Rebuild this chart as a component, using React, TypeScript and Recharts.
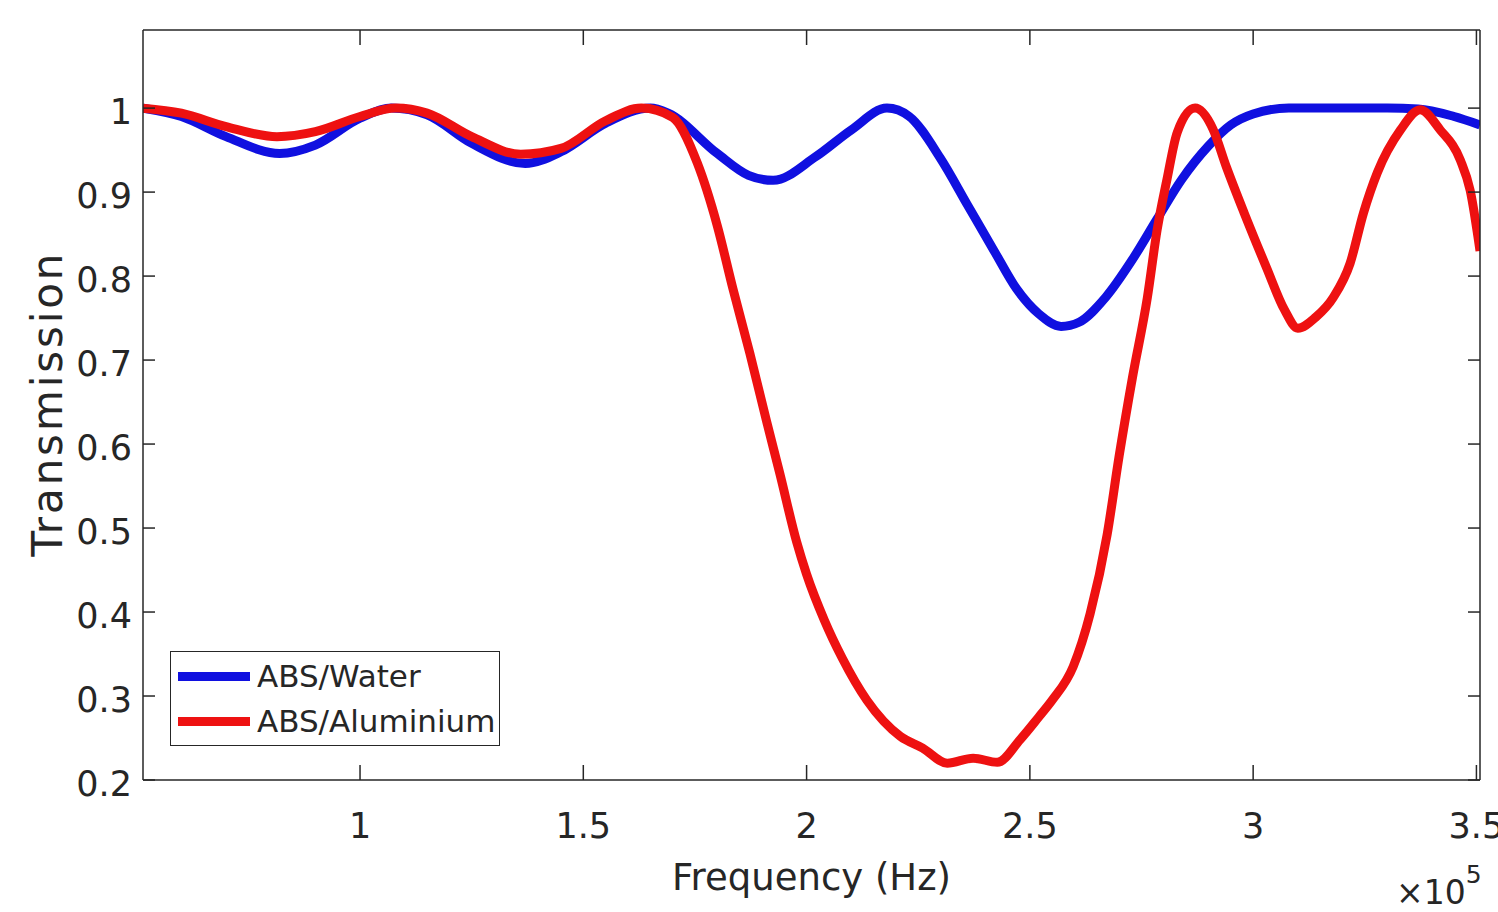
import { Legend, Line, LineChart, XAxis, YAxis } from "recharts";

// frequency in units of 1e5 Hz
const waterFreq = [
  0.514, 0.6, 0.7, 0.82, 0.9, 1.0, 1.07, 1.15, 1.25, 1.37, 1.45, 1.55, 1.65, 1.69, 1.8, 1.87, 1.925,
  2.02, 2.1, 2.18, 2.23, 2.3, 2.36, 2.42, 2.47, 2.52, 2.57, 2.61, 2.67, 2.73, 2.785, 2.84, 2.9,
  2.95, 3.0, 3.08, 3.2, 3.3, 3.37, 3.45, 3.508,
];
const waterT = [
  1.0, 0.99, 0.966, 0.946, 0.956, 0.988, 1.0, 0.992, 0.958, 0.934, 0.948, 0.982, 1.0, 0.994, 0.946,
  0.92, 0.914, 0.942, 0.974, 1.0, 0.99, 0.94, 0.885, 0.83, 0.785, 0.755, 0.74, 0.745, 0.775, 0.82,
  0.868, 0.915, 0.955, 0.98, 0.993, 1.0, 1.0, 1.0, 0.999, 0.99, 0.98,
];

const aluFreq = [
  0.514, 0.6, 0.7, 0.814, 0.9, 1.0, 1.08, 1.15, 1.25, 1.36, 1.45, 1.55, 1.63, 1.7, 1.755, 1.8, 1.835,
  1.873, 1.91, 1.94, 1.978, 2.0, 2.04, 2.08, 2.135, 2.21, 2.26, 2.315, 2.373, 2.427, 2.478, 2.52,
  2.55, 2.597, 2.635, 2.673, 2.7, 2.73, 2.763, 2.785, 2.807, 2.83, 2.87, 2.91, 2.94, 2.98, 3.03,
  3.07, 3.1, 3.14, 3.18, 3.217, 3.247, 3.278, 3.33, 3.374, 3.419, 3.464, 3.486, 3.508,
];
const aluT = [
  1.0, 0.994, 0.978, 0.966, 0.972, 0.99, 1.0, 0.994, 0.966, 0.945, 0.952, 0.985, 1.0, 0.989, 0.935,
  0.86, 0.785, 0.708, 0.628, 0.565, 0.483, 0.445, 0.39, 0.345, 0.295, 0.252, 0.238, 0.22, 0.226,
  0.221, 0.248, 0.275, 0.295, 0.335, 0.398, 0.492, 0.586, 0.68, 0.774, 0.855, 0.915, 0.971, 1.0,
  0.975, 0.93, 0.875, 0.81, 0.76, 0.738, 0.751, 0.775, 0.815, 0.875, 0.923, 0.974, 0.998, 0.974,
  0.938, 0.902, 0.83,
];

const xTicks = [1, 1.5, 2, 2.5, 3, 3.5];
const yTicks = [0.2, 0.3, 0.4, 0.5, 0.6, 0.7, 0.8, 0.9, 1];

const series = [
  { name: "ABS/Water", color: "#1010e0", freq: waterFreq, t: waterT },
  { name: "ABS/Aluminium", color: "#ee1111", freq: aluFreq, t: aluT },
];

const FONT = "'DejaVu Sans', sans-serif";
const INK = "#262626";

function BottomTick({ x, y, payload }: any) {
  return (
    <g>
      <line x1={x} x2={x} y1={y} y2={y - 15} stroke={INK} strokeWidth={1.5} />
      <text x={x} y={y + 58} textAnchor="middle" fontSize={35} fontFamily={FONT} fill={INK}>
        {payload.value}
      </text>
    </g>
  );
}

function LeftTick({ x, y, payload }: any) {
  return (
    <g>
      <line x1={x} x2={x + 12} y1={y} y2={y} stroke={INK} strokeWidth={1.5} />
      <text x={x - 11} y={y + 16} textAnchor="end" fontSize={35} fontFamily={FONT} fill={INK}>
        {payload.value}
      </text>
    </g>
  );
}

function TopTick({ x, y }: any) {
  return <line x1={x} x2={x} y1={y} y2={y + 15} stroke={INK} strokeWidth={1.5} />;
}

function RightTick({ x, y }: any) {
  return <line x1={x} x2={x - 12} y1={y} y2={y} stroke={INK} strokeWidth={1.5} />;
}

function renderLegend() {
  return (
    <div
      style={{
        width: 330,
        height: 95,
        boxSizing: "border-box",
        border: `1.5px solid ${INK}`,
        background: "#fff",
        paddingTop: 2,
      }}
    >
      {series.map((s) => (
        <div key={s.name} style={{ display: "flex", alignItems: "center", height: 45 }}>
          <span style={{ width: 72, height: 9, background: s.color, marginLeft: 7 }} />
          <span style={{ marginLeft: 7, fontSize: 31, fontFamily: FONT, color: INK, lineHeight: 1 }}>
            {s.name}
          </span>
        </div>
      ))}
    </div>
  );
}

export default function App() {
  return (
    <div style={{ position: "absolute", left: 0, top: 0, width: 1498, height: 912, background: "#fff" }}>
      <LineChart width={1498} height={912} margin={{ top: 29, right: 17, left: 0, bottom: 0 }}>
        <XAxis
          xAxisId="main"
          type="number"
          dataKey="f"
          domain={[0.514, 3.508]}
          allowDataOverflow
          ticks={xTicks}
          height={132}
          tickSize={0}
          tickMargin={0}
          tickLine={false}
          stroke={INK}
          strokeWidth={1.5}
          tick={<BottomTick />}
          label={({ viewBox }: any) => (
            <g>
              <text
                x={viewBox.x + viewBox.width / 2}
                y={viewBox.y + 110}
                textAnchor="middle"
                fontSize={37}
                fontFamily={FONT}
                fill={INK}
              >
                Frequency (Hz)
              </text>
              <text x={1396} y={904} fontSize={33} fontFamily={FONT} fill={INK}>
                ×10
                <tspan dy={-21} fontSize={25}>
                  5
                </tspan>
              </text>
            </g>
          )}
        />
        <XAxis
          xAxisId="top"
          orientation="top"
          type="number"
          dataKey="f"
          domain={[0.514, 3.508]}
          allowDataOverflow
          ticks={xTicks}
          height={1}
          tickSize={0}
          tickMargin={0}
          tickLine={false}
          stroke={INK}
          strokeWidth={1.5}
          tick={<TopTick />}
        />
        <YAxis
          yAxisId="main"
          type="number"
          domain={[0.2, 1.093]}
          allowDataOverflow
          ticks={yTicks}
          width={143}
          tickSize={0}
          tickMargin={0}
          tickLine={false}
          stroke={INK}
          strokeWidth={1.5}
          tick={<LeftTick />}
          label={({ viewBox }: any) => {
            const cy = viewBox.y + viewBox.height / 2;
            return (
              <text
                x={62}
                y={cy}
                transform={`rotate(-90, 62, ${cy})`}
                textAnchor="middle"
                fontSize={42}
                fontFamily={FONT}
                fill={INK}
                textLength={303}
              >
                Transmission
              </text>
            );
          }}
        />
        <YAxis
          yAxisId="right"
          orientation="right"
          type="number"
          domain={[0.2, 1.093]}
          allowDataOverflow
          ticks={yTicks}
          width={1}
          tickSize={0}
          tickMargin={0}
          tickLine={false}
          stroke={INK}
          strokeWidth={1.5}
          tick={<RightTick />}
        />
        <Legend
          layout="vertical"
          align="center"
          verticalAlign="middle"
          content={renderLegend}
          wrapperStyle={{ position: "absolute", left: 170, top: 651, width: 330, height: 95 }}
        />
        {series.map((s) => (
          <Line
            key={s.name}
            xAxisId="main"
            yAxisId="main"
            name={s.name}
            data={s.freq.map((f, i) => ({ f, t: s.t[i] }))}
            dataKey="t"
            type="monotone"
            stroke={s.color}
            strokeWidth={9}
            dot={false}
            activeDot={false}
            isAnimationActive={false}
          />
        ))}
      </LineChart>
    </div>
  );
}
